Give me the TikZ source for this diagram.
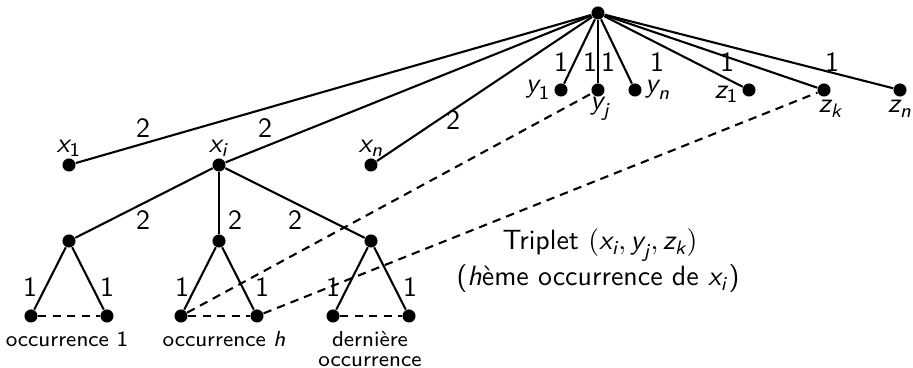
\documentclass[tikz,border=0pt]{standalone}
\usepackage{amsmath}
\usepackage{fontspec}
\renewcommand{\familydefault}{\sfdefault}
\usetikzlibrary{positioning}
\tikzset{
  dot/.style  = {circle, fill=black, inner sep=0pt, minimum size=1.65mm},
  edge/.style = {line width=0.75pt},
  link/.style = {line width=0.75pt, dash pattern=on 3pt off 2.2pt},
  lbl/.style  = {font=\normalsize, inner sep=1pt},
  occ/.style  = {font=\fontsize{7.8}{7.2}\selectfont, align=center, inner sep=1pt},
}
\newcommand{\vlab}[2]{$\textit{#1}_{\text{#2}}$}

\begin{document}
\begin{tikzpicture}[x=0.126mm, y=-0.126mm]
  \useasboundingbox (0,0) rectangle (913,368);
  % root and its children
  \node[dot] (root) at (598,13) {};
  \foreach \n/\x/\y/\p/\dx/\dy/\t in {x1/69/165/above/0/-0.8/{\vlab{x}{1}},
      xi/219/165/above/0/-0.8/{\vlab{x}{\textit{i}}},
      xn/371/165/above/0/-0.8/{\vlab{x}{\textit{n}}},
      y1/561/90/left/0/0/{\vlab{y}{1}},
      yj/598/90/below/1/1.2/{\vlab{y}{\textit{j}}},
      yn/635/90/right/0/0/{\vlab{y}{\textit{n}}},
      z1/749/90/left/0/-1.5/{\vlab{z}{1}},
      zk/824/90/below/2.5/0/{\vlab{z}{\textit{k}}},
      zn/900/90/below/0/0/{\vlab{z}{\textit{n}}}} {
    \node[dot, label={[lbl, xshift=\dx pt, yshift=\dy pt]\p:\t}] (\n) at (\x,\y) {};
    \draw[edge] (root) -- (\n);
  }
  % occurrences of x_i
  \foreach \k/\x in {1/69, 2/219, 3/371} {
    \node[dot] (a\k) at (\x,241) {};
    \node[dot] (l\k1) at (\x-38,316) {};
    \node[dot] (l\k2) at (\x+38,316) {};
    \draw[edge] (xi) -- (a\k);
    \draw[edge] (l\k1) -- (a\k) -- (l\k2);
    \draw[link] (l\k1) -- (l\k2);
  }
  \draw[link] (l21) -- (yj);
  \draw[link] (l22) -- (zk);
  % weights
  \foreach \x/\y/\w [count=\i] in {143/128/2, 265/128/2, 453/120/2, 561/62/1, 590/62/1, 608/62/1,
      657/62/1, 727/62/1, 832/62/1, 143/220/2, 235/220/2, 295/220/2, 30/287/1, 107/287/1,
      182/287/1, 262/287/1, 333/287/1, 410/287/1}
    \node[lbl] (w\i) at (\x,\y) {\w};
  % captions
  \node[occ, anchor=base] (c1) at (67,347) {occurrence 1};
  \node[occ, anchor=base] (c2) at (224,347) {occurrence \textit{h}};
  \node[occ] (c3) at (370,349) {dernière\\occurrence};
  \node[lbl] (trip) at (600,245) {Triplet $(\textit{x}_{\textit{i}}, \textit{y}_{\textit{j}}, \textit{z}_{\textit{k}})$};
  \node[lbl] (rank) at (598,279) {(\textit{h}ème occurrence de \vlab{x}{\textit{i}})};
\end{tikzpicture}
\end{document}
